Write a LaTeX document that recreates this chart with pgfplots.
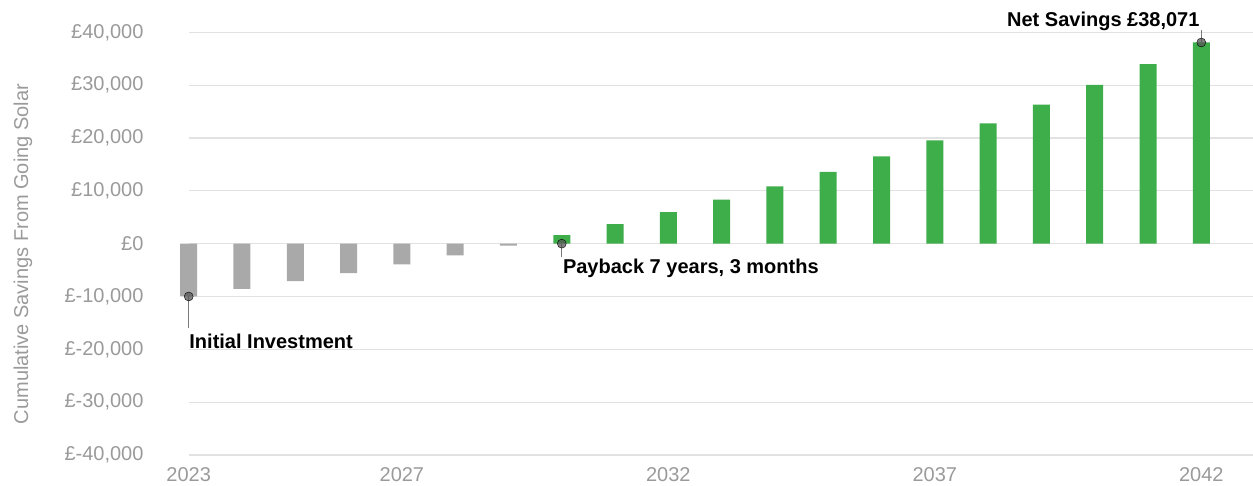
\documentclass[border=0pt]{standalone}
\usepackage{pgfplots}
\pgfplotsset{compat=1.18}
\usepackage{fontspec}
\setmainfont{Liberation Sans}
\definecolor{barGray}{HTML}{A9A9A9}
\definecolor{barGreen}{HTML}{3DAE4A}
\definecolor{tickGray}{HTML}{9A9A9A}
\definecolor{gridGray}{HTML}{E2E2E2}
\definecolor{markGray}{HTML}{555555}
\definecolor{leadGray}{HTML}{7A7A7A}
\begin{document}
\begin{tikzpicture}
\begin{axis}[
  scale only axis,
  width=1064.3pt, height=422.7pt,
  xmin=0, xmax=19.97,
  ymin=-40000, ymax=40000,
  clip=false,
  scaled y ticks=false,
  ybar, bar width=17pt, bar shift=0pt,
  axis line style={draw=none},
  major tick length=0pt,
  tick style={draw=none},
  ymajorgrids, grid style={gridGray, line width=1.2pt},
  ytick={-40000,-30000,-20000,-10000,0,10000,20000,30000,40000},
  yticklabels={{£-40,000},{£-30,000},{£-20,000},{£-10,000},{£0},{£10,000},{£20,000},{£30,000},{£40,000}},
  xtick={0,4,9,14,19},
  xticklabels={2023,2027,2032,2037,2042},
  ticklabel style={font=\fontsize{20}{24}\selectfont, text=tickGray},
  yticklabel style={anchor=east, inner sep=0pt, xshift=-45pt},
  xticklabel style={anchor=north, inner sep=0pt, yshift=-12pt},
  ylabel={Cumulative Savings From Going Solar},
  ylabel style={at={(rel axis cs:-0.1557,0.4755)}, anchor=center, font=\fontsize{20}{24}\selectfont, text=tickGray},
]
\addplot[fill=barGray, draw=none] coordinates {
  (0,-10000) (1,-8540) (2,-7080) (3,-5560) (4,-3910) (5,-2200) (6,-380)
};
\addplot[fill=barGreen, draw=none] coordinates {
  (7,1600) (8,3680) (9,5960) (10,8350) (11,10820) (12,13600) (13,16500)
  (14,19540) (15,22770) (16,26320) (17,30060) (18,33970) (19,38071)
};
% leader lines
\addplot[sharp plot, leadGray, line width=0.9pt, forget plot] coordinates {(0,-10000) (0,-16000)};
\addplot[sharp plot, leadGray, line width=0.9pt, forget plot] coordinates {(7,0) (7,-2500)};
\addplot[sharp plot, leadGray, line width=0.9pt, forget plot] coordinates {(19,38071) (19,40400)};
% markers
\addplot[only marks, mark=*, mark size=4.5pt, mark options={fill=markGray, draw=none, fill opacity=0.75}, forget plot]
  coordinates {(0,-10000) (7,0) (19,38071)};
\node[anchor=west, inner sep=0pt, font=\bfseries\fontsize{20}{24}\selectfont] at (axis cs:0.01,-18450) {Initial Investment};
\node[anchor=west, inner sep=0pt, font=\bfseries\fontsize{20}{24}\selectfont] at (axis cs:7.02,-4600) {Payback 7 years, 3 months};
\node[anchor=east, inner sep=0pt, font=\bfseries\fontsize{20}{24}\selectfont] at (axis cs:18.97,42100) {Net Savings £38,071};
\coordinate (BL) at (rel axis cs:0,0);
\end{axis}
\pgfresetboundingbox
\path (BL) ++(-188.7pt,-31pt) rectangle ++(1253pt,486pt);
\end{tikzpicture}
\end{document}
